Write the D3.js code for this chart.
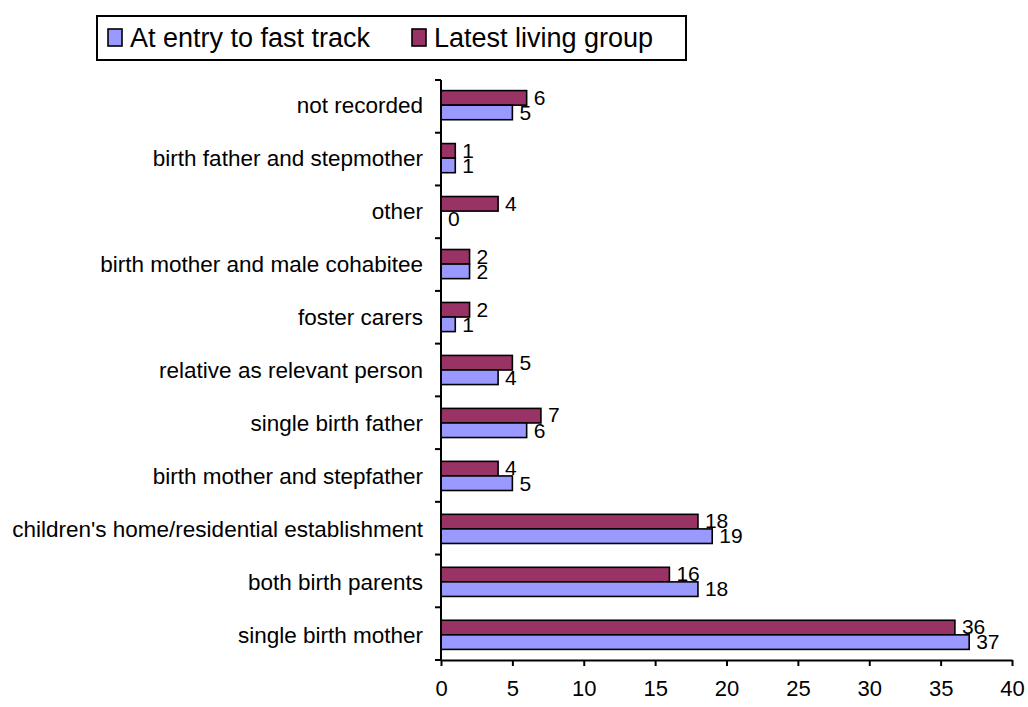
<!DOCTYPE html>
<html lang="en">
<head>
  <meta charset="UTF-8" />
  <title>Living group at entry and latest</title>
  <script src="https://d3js.org/d3.v7.min.js"></script>
  <style>
    body { margin: 0; background: #fff; }
    svg { display: block; font-family: "Liberation Sans", Arial, sans-serif; }
  </style>
</head>
<body>
  <svg id="chart" width="1028" height="707"></svg>
  <script>
  // categories top to bottom
  const categories = [
    "not recorded",
    "birth father and stepmother",
    "other",
    "birth mother and male cohabitee",
    "foster carers",
    "relative as relevant person",
    "single birth father",
    "birth mother and stepfather",
    "children's home/residential establishment",
    "both birth parents",
    "single birth mother"
  ];
  const atEntry = [5, 1, 0, 2, 1, 4, 6, 5, 19, 18, 37];
  const latest  = [6, 1, 4, 2, 2, 5, 7, 4, 18, 16, 36];
  const xTicks = [0, 5, 10, 15, 20, 25, 30, 35, 40];
  const seriesNames = ["At entry to fast track", "Latest living group"];
  const colors = ["#9999FF", "#993366"];

  const svg = d3.select("#chart");
  const plotL = 441, plotR = 1012, plotT = 80, plotB = 660;

  const x = d3.scaleLinear().domain([0, 40]).range([plotL, plotR]);
  const y = d3.scaleBand().domain(categories).range([plotT, plotB]).paddingInner(0.45).paddingOuter(0.2);
  const half = y.bandwidth() / 2;

  const rows = categories.map((c, i) => ({ c, entry: atEntry[i], latest: latest[i] }));

  // bars: latest on top, entry below
  const g = svg.append("g");
  rows.forEach(d => {
    g.append("rect")
      .attr("x", x(0)).attr("y", y(d.c))
      .attr("width", x(d.latest) - x(0)).attr("height", half)
      .attr("fill", colors[1]).attr("stroke", "#000").attr("stroke-width", 1.6);
    g.append("rect")
      .attr("x", x(0)).attr("y", y(d.c) + half)
      .attr("width", x(d.entry) - x(0)).attr("height", half)
      .attr("fill", colors[0]).attr("stroke", "#000").attr("stroke-width", 1.6);
  });
  rows.forEach(d => {
    g.append("text")
      .attr("x", x(d.latest) + 7).attr("y", y(d.c) + half - 0.5)
      .attr("font-size", 21).text(d.latest);
    g.append("text")
      .attr("x", x(d.entry) + 7).attr("y", y(d.c) + 2 * half)
      .attr("font-size", 21).text(d.entry);
  });

  // y axis
  const yAxis = svg.append("g");
  yAxis.append("line")
    .attr("x1", plotL).attr("x2", plotL).attr("y1", plotT).attr("y2", plotB)
    .attr("stroke", "#000").attr("stroke-width", 2);
  d3.range(categories.length + 1).forEach(i => {
    const yy = plotT + i * (plotB - plotT) / categories.length;
    yAxis.append("line")
      .attr("x1", plotL - 6).attr("x2", plotL).attr("y1", yy).attr("y2", yy)
      .attr("stroke", "#000").attr("stroke-width", 2);
  });
  yAxis.selectAll("text.cat").data(categories).join("text")
    .attr("class", "cat")
    .attr("x", plotL - 18)
    .attr("y", d => y(d) + half + 8)
    .attr("text-anchor", "end")
    .attr("font-size", 22.5)
    .text(d => d);

  // x axis
  const xAxis = svg.append("g")
    .attr("transform", `translate(0,${plotB})`)
    .call(d3.axisBottom(x).tickValues(xTicks).tickSize(6).tickSizeOuter(0).tickPadding(14));
  xAxis.select(".domain").attr("stroke", "#000").attr("stroke-width", 2);
  xAxis.selectAll(".tick line").attr("stroke", "#000").attr("stroke-width", 2);
  xAxis.selectAll(".tick text")
    .attr("font-size", 22).attr("font-family", "'Liberation Sans', Arial, sans-serif").attr("fill", "#000");

  // legend
  const leg = svg.append("g");
  leg.append("rect")
    .attr("x", 97).attr("y", 16).attr("width", 589).attr("height", 44)
    .attr("fill", "#fff").attr("stroke", "#000").attr("stroke-width", 2);
  const legX = [108, 412];
  seriesNames.forEach((s, i) => {
    leg.append("rect")
      .attr("x", legX[i]).attr("y", 29).attr("width", 14).attr("height", 17)
      .attr("fill", colors[i]).attr("stroke", "#000").attr("stroke-width", 1.6);
    leg.append("text")
      .attr("x", legX[i] + 22).attr("y", 47)
      .attr("font-size", 27).text(s);
  });
  </script>
</body>
</html>
